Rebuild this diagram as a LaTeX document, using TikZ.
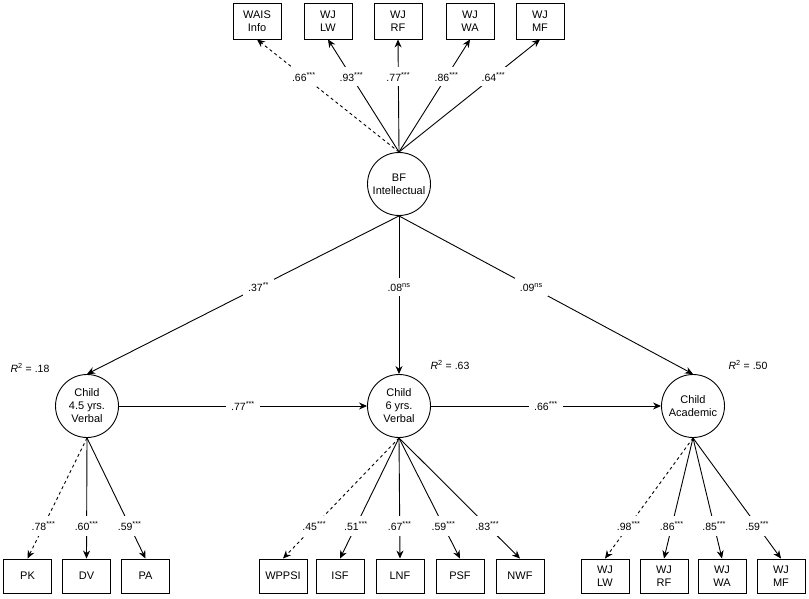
\documentclass[tikz,border=0pt]{standalone}
\usepackage{fontspec}
\setmainfont{Liberation Sans}
\usetikzlibrary{arrows.meta}

\tikzset{
	obs/.style={draw, minimum width=48pt, minimum height=35pt, inner sep=1pt, align=center, font=\fontsize{11}{13}\selectfont},
	lat/.style={draw, circle, minimum size=63pt, inner sep=0pt, align=center, font=\fontsize{11}{13}\selectfont},
	coef/.style={fill=white, inner sep=5pt, font=\fontsize{10.5}{12}\selectfont},
}
\newcommand{\sig}{\textsuperscript{***}}

\begin{document}
\begin{tikzpicture}[x=1pt, y=-1pt, >={Stealth[length=8pt,width=7pt]}, line width=0.9pt]
		\useasboundingbox (0,0) rectangle (809,599);
		% latent factors
		\node[lat] (bf) at (399,184) {BF\\Intellectual};
		\node[lat] (v45) at (87,406) {Child\\4.5 yrs.\\Verbal};
		\node[lat] (v6) at (399,406) {Child\\6 yrs.\\Verbal};
		\node[lat] (acad) at (693,406) {Child\\Academic};
		% R squared
		\node[font=\fontsize{10.5}{12}\selectfont] (r45) at (30,368) {\textit{R}\textsuperscript{2} = .18};
		\node[font=\fontsize{10.5}{12}\selectfont] (r6) at (450,365) {\textit{R}\textsuperscript{2} = .63};
		\node[font=\fontsize{10.5}{12}\selectfont] (racad) at (748,365) {\textit{R}\textsuperscript{2} = .50};
		% indicators
		\foreach \n/\x/\lbl in {wais/257/WAIS\\Info, tlw/328/WJ\\LW, trf/398/WJ\\RF, twa/470/WJ\\WA, tmf/540/WJ\\MF}{
			\node[obs, minimum height=36pt] (\n) at (\x,21) {\lbl};
		}
		\foreach \n/\x/\lbl in {pk/27.5/PK, dv/86.5/DV, pa/145.5/PA, wppsi/283/WPPSI, isf/340/ISF, lnf/400/LNF, psf/460/PSF, nwf/520/NWF, blw/605/WJ\\LW, brf/664/WJ\\RF, bwa/722/WJ\\WA, bmf/781/WJ\\MF}{
			\node[obs, minimum height=34pt] (\n) at (\x,576) {\lbl};
		}
		% loadings
		\foreach \n/\c/\d in {wais/.66/dashed, tlw/.93/solid, trf/.77/solid, twa/.86/solid, tmf/.64/solid}{
			\draw[->, \d] (bf.north) -- node[coef, pos=0.67] {\c\sig} (\n.south);
		}
		\foreach \f/\n/\c/\d in {v45/pk/.78/dashed, v45/dv/.60/solid, v45/pa/.59/solid,
			v6/wppsi/.45/dashed, v6/isf/.51/solid, v6/lnf/.67/solid, v6/psf/.59/solid, v6/nwf/.83/solid,
			acad/blw/.98/dashed, acad/brf/.86/solid, acad/bwa/.85/solid, acad/bmf/.59/solid}{
			\draw[->, \d] (\f.south) -- node[coef, pos=0.73] {\c\sig} (\n.north);
		}
		% structural paths
		\draw[->] (bf.south) -- node[coef, pos=0.45] {.37\textsuperscript{**}} (v45.north);
		\draw[->] (bf.south) -- node[coef, pos=0.45] {.08\textsuperscript{ns}} (v6.north);
		\draw[->] (bf.south) -- node[coef, pos=0.45] {.09\textsuperscript{ns}} (acad.north);
		\draw[->] (v45) -- node[coef] {.77\sig} (v6);
		\draw[->] (v6) -- node[coef] {.66\sig} (acad);
	\end{tikzpicture}
\end{document}
